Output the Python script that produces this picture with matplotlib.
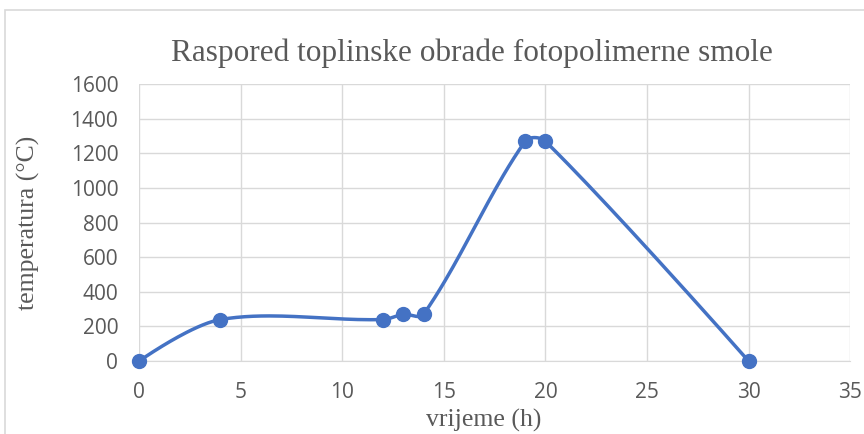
import matplotlib.pyplot as plt
from matplotlib.patches import Rectangle
import numpy as np

# podaci
vrijeme = [0, 4, 12, 13, 14, 19, 20, 30]
temperatura = [0, 240, 240, 270, 270, 1270, 1270, 0]
x_ticks = [0, 5, 10, 15, 20, 25, 30, 35]
y_ticks = [0, 200, 400, 600, 800, 1000, 1200, 1400, 1600]

line_color = '#4472C4'
text_color = '#595959'
grid_color = '#D9D9D9'


def smooth_curve(ax, xs, ys, n=40):
    """Excel-like smoothing (bezier), done in display space"""
    pts = ax.transData.transform(np.column_stack([xs, ys]))
    out = [pts[0]]
    m = len(pts)
    for i in range(m - 1):
        p1, p2 = pts[i], pts[i + 1]
        p0 = pts[i - 1] if i > 0 else p1
        p3 = pts[i + 2] if i + 2 < m else p2
        d01 = np.linalg.norm(p1 - p0)
        d12 = np.linalg.norm(p2 - p1)
        d23 = np.linalg.norm(p3 - p2)
        c1 = p1 + (p2 - p0) / 3 * (d12 / (d01 + d12)) if d01 > 0 else p1
        c2 = p2 - (p3 - p1) / 3 * (d12 / (d12 + d23)) if d23 > 0 else p2
        t = np.linspace(0, 1, n)[1:, None]
        seg = ((1 - t) ** 3 * p1 + 3 * (1 - t) ** 2 * t * c1
               + 3 * (1 - t) * t ** 2 * c2 + t ** 3 * p2)
        out.extend(seg)
    out = np.array(out)
    return ax.transData.inverted().transform(out)


fig = plt.figure(figsize=(8.64, 4.34), dpi=100)
ax = fig.add_axes([0.161, 0.168, 0.823, 0.638])

# okvir grafikona
fig.patches.append(Rectangle((5 / 864, -0.2), 1.2, 1.2 - 10 / 434,
                             transform=fig.transFigure, fill=False,
                             edgecolor=grid_color, linewidth=1.2))

ax.set_xlim(0, 35)
ax.set_ylim(0, 1600)
ax.set_xticks(x_ticks)
ax.set_yticks(y_ticks)
ax.grid(True, color=grid_color, linewidth=1)
ax.set_axisbelow(True)
for s in ['top', 'right', 'left']:
    ax.spines[s].set_visible(False)
ax.spines['bottom'].set_color(grid_color)
ax.tick_params(length=0, labelsize=15, colors=text_color)
ax.tick_params(axis='x', pad=15)
ax.tick_params(axis='y', pad=15)
for lbl in ax.get_xticklabels() + ax.get_yticklabels():
    lbl.set_fontfamily('Open Sans')

curve = smooth_curve(ax, vrijeme, temperatura)
ax.plot(curve[:, 0], curve[:, 1], color=line_color, linewidth=2.5,
        solid_capstyle='round', clip_on=False)
ax.plot(vrijeme, temperatura, 'o', color=line_color, markersize=10,
        clip_on=False, zorder=3)

fig.text(0.546, 0.878, 'Raspored toplinske obrade fotopolimerne smole',
         ha='center', va='center', fontsize=22.5, color=text_color,
         family='Liberation Serif')
ax.set_xlabel('vrijeme (h)', fontsize=18.5, color=text_color,
              family='Liberation Serif')
ax.set_ylabel('temperatura (°C)', fontsize=18.5, color=text_color,
              family='Liberation Serif')
ax.xaxis.set_label_coords(0.484, -0.215)
ax.yaxis.set_label_coords(-0.155, 0.5)
ax.xaxis.label.set_va('center')
ax.yaxis.label.set_va('center')

fig.savefig('out.png', dpi=100)
